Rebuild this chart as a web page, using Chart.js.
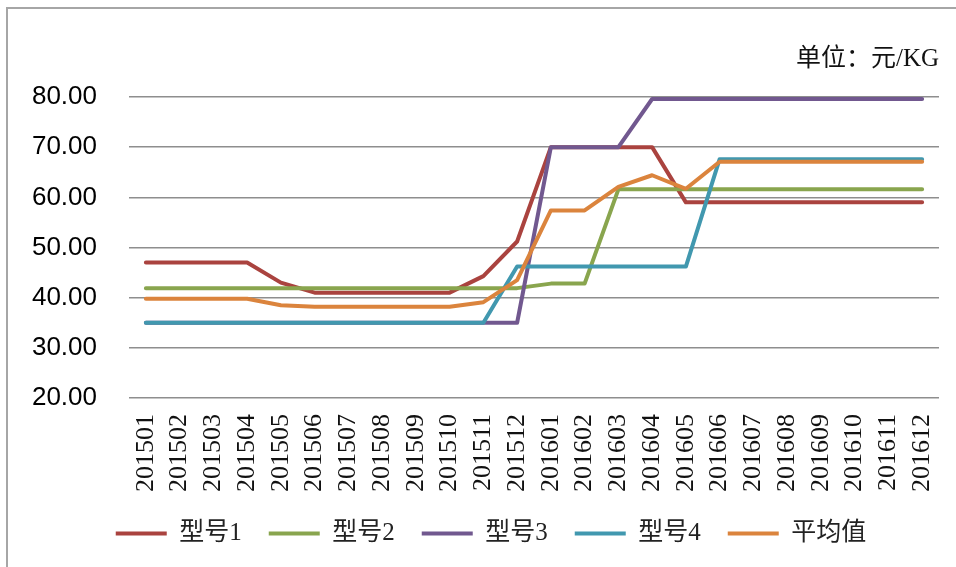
<!DOCTYPE html>
<html>
<head>
<meta charset="utf-8">
<title>型号价格走势</title>
<script src="https://cdn.jsdelivr.net/npm/chart.js@4/dist/chart.umd.min.js"></script>
<style>
    html, body {
        margin: 0;
        padding: 0;
        background: #fff;
        overflow: hidden;
    }
    #wrap {
        position: relative;
        width: 956px;
        height: 567px;
    }
    #frame {
        position: absolute;
        left: 6px;
        top: 7px;
        width: 980px;
        height: 600px;
        border-left: 2px solid #a6a6a6;
        border-top: 2px solid #a6a6a6;
        pointer-events: none;
    }
</style>
</head>
<body>
<div id="wrap">
    <canvas id="chart" width="956" height="567"></canvas>
    <div id="frame"></div>
</div>
<script>
const months = [
    '201501', '201502', '201503', '201504', '201505', '201506',
    '201507', '201508', '201509', '201510', '201511', '201512',
    '201601', '201602', '201603', '201604', '201605', '201606',
    '201607', '201608', '201609', '201610', '201611', '201612'
];

const model1 = [47, 47, 47, 47, 43, 41, 41, 41, 41, 41, 44.3, 51.2,
    70, 70, 70, 70, 59, 59, 59, 59, 59, 59, 59, 59];
const model2 = [41.9, 41.9, 41.9, 41.9, 41.9, 41.9, 41.9, 41.9, 41.9, 41.9, 41.9, 41.9,
    42.8, 42.8, 61.6, 61.6, 61.6, 61.6, 61.6, 61.6, 61.6, 61.6, 61.6, 61.6];
const model3 = [35, 35, 35, 35, 35, 35, 35, 35, 35, 35, 35, 35,
    70, 70, 70, 79.6, 79.6, 79.6, 79.6, 79.6, 79.6, 79.6, 79.6, 79.6];
const model4 = [35, 35, 35, 35, 35, 35, 35, 35, 35, 35, 35, 46.2,
    46.2, 46.2, 46.2, 46.2, 46.2, 67.6, 67.6, 67.6, 67.6, 67.6, 67.6, 67.6];
const average = [39.8, 39.8, 39.8, 39.8, 38.5, 38.2, 38.2, 38.2, 38.2, 38.2, 39.1, 43.5,
    57.4, 57.4, 62.1, 64.4, 61.7, 67.1, 67.1, 67.1, 67.1, 67.1, 67.1, 67.1];

const seriesNames = ['型号1', '型号2', '型号3', '型号4', '平均值'];
const seriesColors = ['#aa433f', '#89a54e', '#71588f', '#4198af', '#db843d'];
const yTicks = [20, 30, 40, 50, 60, 70, 80];

const serif = '"Liberation Serif", "DejaVu Serif", "Noto Sans CJK SC", serif';

function makeDataset(index, values) {
    return {
        label: seriesNames[index],
        data: values,
        borderColor: seriesColors[index],
        backgroundColor: seriesColors[index],
        borderWidth: 4,
        borderCapStyle: 'round',
        borderJoinStyle: 'round',
        pointRadius: 0,
        pointHoverRadius: 0,
        tension: 0,
        fill: false,
        // later series sit on top, as in the original
        order: 5 - index
    };
}

const datasets = [model1, model2, model3, model4, average]
    .map((values, i) => makeDataset(i, values));

new Chart(document.getElementById('chart'), {
    type: 'line',
    data: {
        labels: months,
        datasets: datasets
    },
    options: {
        responsive: false,
        animation: false,
        layout: {
            padding: { left: 26, right: 0, top: 0, bottom: 11 }
        },
        plugins: {
            tooltip: { enabled: false },
            title: {
                display: true,
                fullSize: false,
                text: '单位：元/KG',
                align: 'end',
                color: '#111',
                font: { family: serif, size: 25, weight: 'normal' },
                padding: { top: 44, bottom: 23 }
            },
            legend: {
                position: 'bottom',
                labels: {
                    color: '#222',
                    font: { family: serif, size: 25 },
                    boxWidth: 51,
                    boxHeight: 4,
                    padding: 27,
                    sort: (a, b) => a.datasetIndex - b.datasetIndex,
                    generateLabels: chart => Chart.defaults.plugins.legend.labels
                        .generateLabels(chart)
                        .map(item => ({ ...item, lineWidth: 0 }))
                }
            }
        },
        scales: {
            x: {
                offset: true,
                grid: { display: false, drawTicks: true, tickLength: 16 },
                border: { display: false },
                ticks: {
                    autoSkip: false,
                    minRotation: 90,
                    maxRotation: 90,
                    padding: 0,
                    color: '#111',
                    font: { family: serif, size: 26 }
                },
                afterFit: scale => { scale.height = 96; }
            },
            y: {
                min: 20,
                max: 80,
                afterBuildTicks: scale => {
                    scale.ticks = yTicks.map(value => ({ value }));
                },
                grid: {
                    color: '#8e8e8e',
                    lineWidth: 1.5,
                    drawTicks: false
                },
                border: { display: false },
                ticks: {
                    padding: 32,
                    color: '#000',
                    font: { family: '"Liberation Sans", Arial, sans-serif', size: 26 },
                    callback: value => value.toFixed(2)
                },
                afterFit: scale => { scale.width = 103; }
            },
            // empty spacer on the right so the legend sits where the original has it
            spacer: {
                type: 'linear',
                position: 'right',
                grid: { display: false },
                border: { display: false },
                ticks: { display: false },
                afterFit: scale => { scale.width = 17; }
            }
        }
    }
});
</script>
</body>
</html>
